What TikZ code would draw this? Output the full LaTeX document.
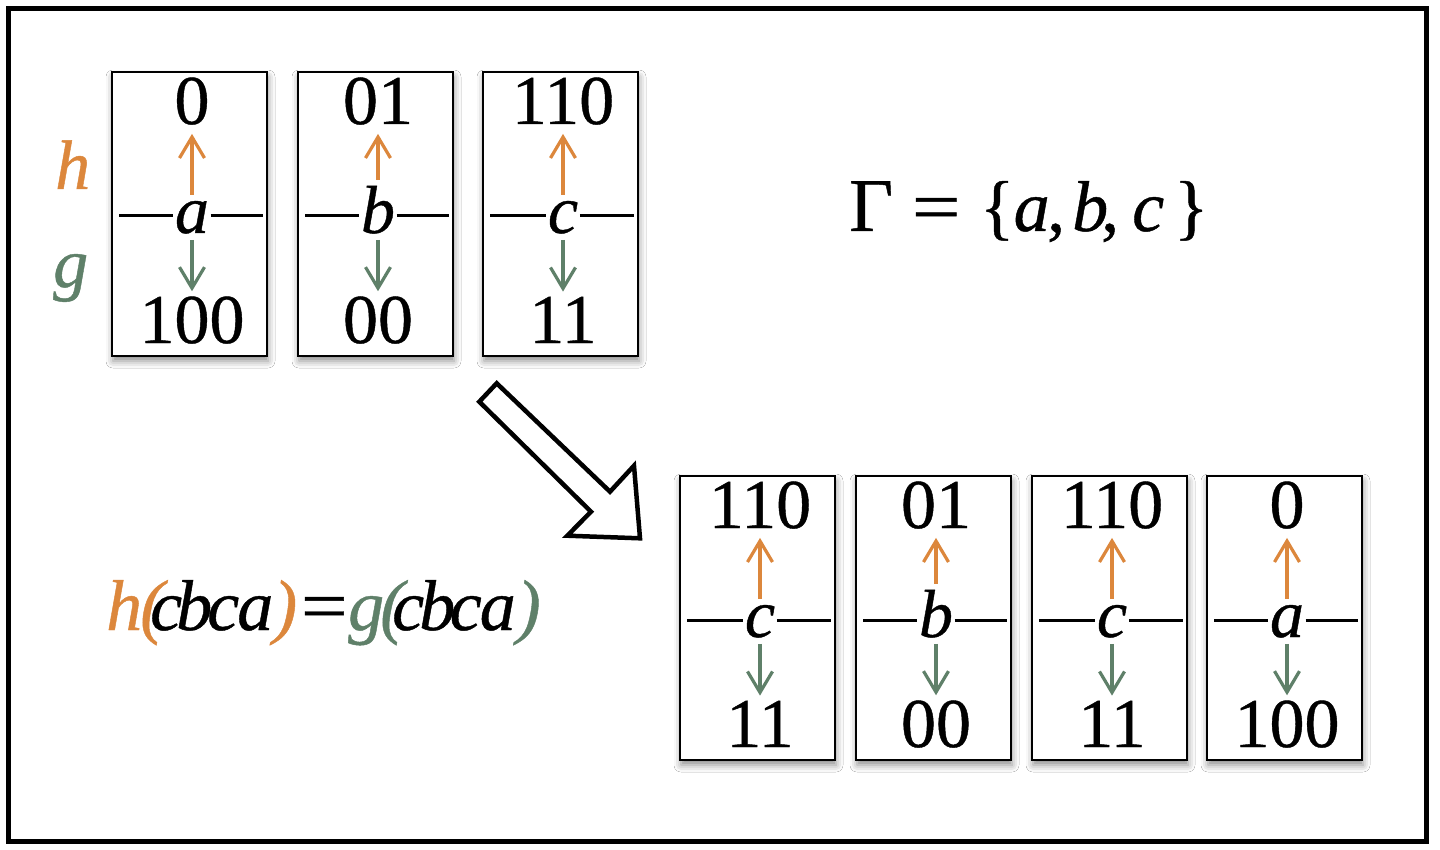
\documentclass[tikz,border=0pt]{standalone}
\usepackage{fontspec}
\usepackage{graphicx}
\setmainfont{Liberation Serif}
\usetikzlibrary{arrows.meta,calc,shadows.blur}
\definecolor{horange}{HTML}{DC873C}
\definecolor{ggreen}{HTML}{5F8069}
\newcommand\gl[1]{\makebox[0pt][c]{#1}}
\newcommand\heavy{\addfontfeature{FakeBold=0.6}}
\tikzset{
  cardbox/.style={draw=black, line width=2pt, fill=white, minimum width=155pt,
    minimum height=284pt, inner sep=0pt, anchor=north west,
    blur shadow={shadow xshift=1pt, shadow yshift=-5pt, shadow blur radius=7pt, shadow opacity=45}},
  num/.style={font=\fontsize{70}{80}\selectfont\heavy, inner sep=0pt, anchor=base},
  sym/.style={font=\fontsize{68}{80}\selectfont\itshape\heavy, inner xsep=1.5pt, inner ysep=0pt, anchor=base},
  dashline/.style={line width=3pt},
  harr/.style={draw=horange, line width=3.2pt, -{Straight Barb[length=21pt,width=25pt,line width=3.2pt]}},
  garr/.style={draw=ggreen, line width=3.2pt, -{Straight Barb[length=21pt,width=25pt,line width=3.2pt]}},
  biglabel/.style={font=\fontsize{70}{80}\selectfont\itshape\heavy, inner sep=0pt, anchor=base west},
  formula/.style={font=\fontsize{72}{80}\selectfont\itshape\heavy, inner sep=0pt, anchor=base west},
  setf/.style={font=\fontsize{72}{80}\selectfont\heavy, inner sep=0pt, anchor=base west},
  hollow/.style={draw=black, line width=4.5pt, line join=miter, fill=white}
}
\newcommand\mkcard[6]{%
  \node[cardbox] (#1) at (#2,#3) {};
  \node[num] (#1t) at (#2+81,#3+53) {#5};
  \node[num] (#1b) at (#2+81,#3+272) {#6};
  \node[sym] (#1s) at (#2+81,#3+162) {#4};
  \coordinate (#1m) at (#2,#3+145);
  \draw[dashline] ($(#1.west |- #1m)+(8,0)$) -- (#1s.west |- #1m);
  \draw[dashline] (#1s.east |- #1m) -- ($(#1.east |- #1m)+(-5,0)$);
  \draw[harr] ([yshift=6pt]#1s.north) -- ([yshift=-9pt]#1t.south);
  \draw[garr] ([yshift=-6pt]#1s.south) -- ([yshift=5pt]#1b.north);
}
\begin{document}
\begin{tikzpicture}[x=1pt,y=-1pt]
\useasboundingbox (0,0) rectangle (1440,850);
\fill[white] (0,0) rectangle (1440,850);
\draw[line width=5pt] (8.5,8.5) rectangle (1426,841);

% top row
\mkcard{ta}{111}{71}{a}{0}{100}
\mkcard{tb}{297}{71}{b}{01}{00}
\mkcard{tc}{482}{71}{c}{110}{11}
% bottom row
\mkcard{ba}{679}{475}{c}{110}{11}
\mkcard{bb}{855}{475}{b}{01}{00}
\mkcard{bc}{1031}{475}{c}{110}{11}
\mkcard{bd}{1206}{475}{a}{0}{100}

% h / g labels
\node[biglabel, text=horange] (hlab) at (55,189) {h};
\node[biglabel, text=ggreen] (glab) at (53,287) {g};

% Gamma set
\node[setf] (gamma) at (850,231) {\kern21pt\gl{\fontsize{76}{80}\selectfont Γ}\kern65pt\gl{\scalebox{1.2}[1]{=}}\kern61pt\gl{\{}\kern34.5pt\gl{\itshape a}\kern24.5pt\gl{,}\kern34pt\gl{\itshape b}\kern20pt\gl{,}\kern38pt\gl{\itshape c}\kern43pt\gl{\}}\kern11pt};

% formula
\node[formula] (eq) at (105,630) {\kern19pt\gl{\color{horange}h}\kern28pt\gl{\color{horange}(}\kern14pt\gl{c}\kern28pt\gl{b}\kern29pt\gl{c}\kern32pt\gl{a}\kern30pt\gl{\color{horange})}\kern38.5pt\gl{\scalebox{1.15}[1]{=}}\kern42.5pt\gl{\color{ggreen}g}\kern26pt\gl{\color{ggreen}(}\kern16pt\gl{c}\kern29pt\gl{b}\kern28.5pt\gl{c}\kern32pt\gl{a}\kern31pt\gl{\color{ggreen})}\kern10pt};

% big hollow arrow
\coordinate (pA) at (496.7,383.3);
\coordinate (pB) at (479.3,401.7);
\coordinate (pC) at (591,511.7);
\coordinate (pD) at (567.3,535.7);
\coordinate (pE) at (640,538.3);
\coordinate (pF) at (634,465.7);
\coordinate (pG) at (610,491.7);
\draw[hollow] (pA) -- (pB) -- (pC) -- (pD) -- (pE) -- (pF) -- (pG) -- cycle;
\end{tikzpicture}
\end{document}
